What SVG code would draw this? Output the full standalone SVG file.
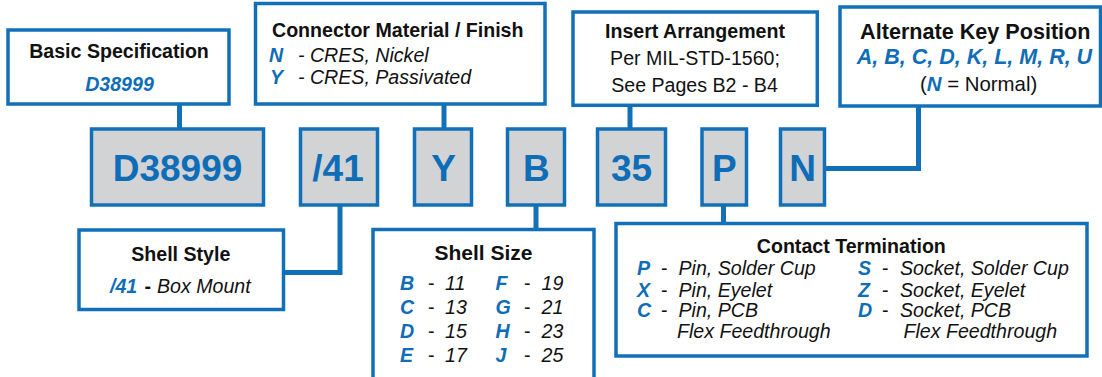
<svg xmlns="http://www.w3.org/2000/svg" width="1102" height="377" viewBox="0 0 1102 377">
<style>
.box{fill:#fff;stroke:#1170b8;stroke-width:3.5}
.code{fill:#d1d3d5;stroke:#1170b8;stroke-width:3.5}
.con{fill:none;stroke:#1170b8;stroke-width:5;stroke-linejoin:miter;stroke-linecap:butt}
text{font-family:"Liberation Sans",Arial,sans-serif;font-size:19.6px;fill:#111}
.t{font-weight:bold}
.c{text-anchor:middle}
.b{fill:#0f6db8;font-weight:bold;font-style:italic}
.i{font-style:italic}
.big{font-size:37px;font-weight:bold;fill:#0f6db8;text-anchor:middle}
</style>
<g id="connectors">
<path class="con" d="M179.5 104V129"/>
<path class="con" d="M444 104V129"/>
<path class="con" d="M630 105V129"/>
<path class="con" d="M340 205V272.5H283.5"/>
<path class="con" d="M536 205V229.5"/>
<path class="con" d="M723.5 205V223.5"/>
<path class="con" d="M824.5 168.5H918.5V106"/>
</g>
<g id="basic-spec">
<rect class="box" x="8" y="30" width="221" height="74"/>
<text class="t c" x="119" y="58">Basic Specification</text>
<text class="b c" x="119.5" y="90.5">D38999</text>
</g>
<g id="connector-material">
<rect class="box" x="255.5" y="3.5" width="289.5" height="100.5"/>
<text class="t" x="272" y="36.5">Connector Material / Finish</text>
<text class="b" x="269" y="61.5">N</text>
<text class="i" x="298" y="61.5">- CRES, Nickel</text>
<text class="b" x="270" y="84">Y</text>
<text class="i" x="298" y="84">- CRES, Passivated</text>
</g>
<g id="insert-arrangement">
<rect class="box" x="573" y="12" width="244.3" height="93.3"/>
<text class="t c" x="695" y="38.3">Insert Arrangement</text>
<text class="c" x="695" y="65">Per MIL-STD-1560;</text>
<text class="c" x="694.5" y="91.7">See Pages B2 - B4</text>
</g>
<g id="alternate-key">
<rect class="box" x="840" y="7" width="260.5" height="99"/>
<text class="t c" x="975.3" y="39.3" style="font-size:21.6px">Alternate Key Position</text>
<text class="b c" x="974.5" y="64" style="font-size:21.5px">A, B, C, D, K, L, M, R, U</text>
<text class="c" x="978.6" y="90.7" style="font-size:20.4px">(<tspan class="b">N</tspan> = Normal)</text>
</g>
<g id="code-d38999">
<rect class="code" x="91.5" y="129" width="172" height="76"/>
<text class="big" x="177.5" y="181">D38999</text>
</g>
<g id="code-41">
<rect class="code" x="300.5" y="129" width="77" height="76"/>
<text class="big" x="338" y="181">/41</text>
</g>
<g id="code-y">
<rect class="code" x="414.5" y="129" width="57" height="76"/>
<text class="big" x="443.5" y="181">Y</text>
</g>
<g id="code-b">
<rect class="code" x="507.5" y="129" width="57" height="76"/>
<text class="big" x="536.3" y="181">B</text>
</g>
<g id="code-35">
<rect class="code" x="597.5" y="129" width="68" height="76"/>
<text class="big" x="631.5" y="181">35</text>
</g>
<g id="code-p">
<rect class="code" x="702" y="129" width="44.5" height="76"/>
<text class="big" x="724.3" y="181">P</text>
</g>
<g id="code-n">
<rect class="code" x="780.5" y="129" width="44" height="76"/>
<text class="big" x="802.5" y="181">N</text>
</g>
<g id="shell-style">
<rect class="box" x="79" y="230" width="204.5" height="79.5"/>
<text class="t c" x="180.8" y="261">Shell Style</text>
<text class="b" x="110" y="293.3">/41</text>
<text class="t" x="144.5" y="293.3">-</text>
<text class="i" x="157" y="293.3">Box Mount</text>
</g>
<g id="shell-size">
<rect class="box" x="373" y="229.5" width="221" height="170"/>
<text class="t c" x="483.5" y="260" style="font-size:21px">Shell Size</text>
<text class="b" x="400" y="290">B</text><text x="428" y="290">-</text><text class="i" x="445" y="290">11</text>
<text class="b" x="400" y="314">C</text><text x="428" y="314">-</text><text class="i" x="445" y="314">13</text>
<text class="b" x="400" y="338.3">D</text><text x="428" y="338.3">-</text><text class="i" x="445" y="338.3">15</text>
<text class="b" x="400" y="361.7">E</text><text x="428" y="361.7">-</text><text class="i" x="445" y="361.7">17</text>
<text class="b" x="495.6" y="290">F</text><text x="524" y="290">-</text><text class="i" x="541.5" y="290">19</text>
<text class="b" x="495.6" y="314">G</text><text x="524" y="314">-</text><text class="i" x="541.5" y="314">21</text>
<text class="b" x="495.6" y="338.3">H</text><text x="524" y="338.3">-</text><text class="i" x="541.5" y="338.3">23</text>
<text class="b" x="495.6" y="361.7">J</text><text x="524" y="361.7">-</text><text class="i" x="541.5" y="361.7">25</text>
</g>
<g id="contact-termination">
<rect class="box" x="616" y="223.5" width="471" height="132.5"/>
<text class="t c" x="851.3" y="253.3">Contact Termination</text>
<text class="b" x="637" y="275">P</text><text x="661" y="275">-</text><text class="i" x="678.5" y="275">Pin, Solder Cup</text>
<text class="b" x="637" y="296.7">X</text><text x="661" y="296.7">-</text><text class="i" x="678.5" y="296.7">Pin, Eyelet</text>
<text class="b" x="637" y="317.3">C</text><text x="661" y="317.3">-</text><text class="i" x="678.5" y="317.3">Pin, PCB</text>
<text class="i" x="677" y="338.3">Flex Feedthrough</text>
<text class="b" x="858" y="275">S</text><text x="882" y="275">-</text><text class="i" x="900" y="275">Socket, Solder Cup</text>
<text class="b" x="858" y="296.7">Z</text><text x="882" y="296.7">-</text><text class="i" x="900" y="296.7">Socket, Eyelet</text>
<text class="b" x="858" y="317.3">D</text><text x="882" y="317.3">-</text><text class="i" x="900" y="317.3">Socket, PCB</text>
<text class="i" x="903.5" y="338.3">Flex Feedthrough</text>
</g>
</svg>
